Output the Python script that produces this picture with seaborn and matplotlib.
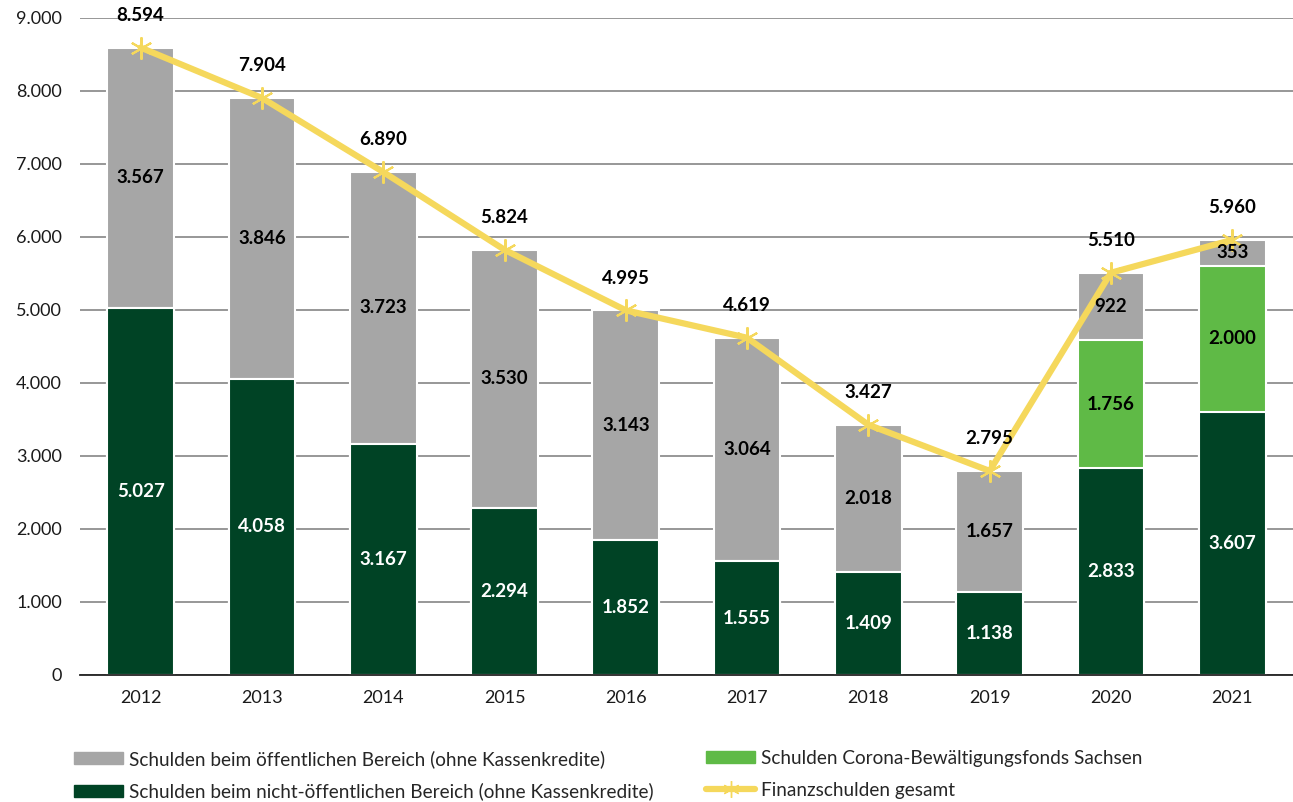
import numpy as np
import pandas as pd
import matplotlib
matplotlib.use("Agg")
import matplotlib.pyplot as plt
from matplotlib.patches import Patch
from matplotlib.lines import Line2D
import seaborn as sns

# Finanzschulden des Landes, Mio. EUR
years = ["2012", "2013", "2014", "2015", "2016", "2017", "2018", "2019", "2020", "2021"]
nicht_oeffentlich = [5027, 4058, 3167, 2294, 1852, 1555, 1409, 1138, 2833, 3607]
oeffentlich = [3567, 3846, 3723, 3530, 3143, 3064, 2018, 1657, 922, 353]
corona_fonds = [0, 0, 0, 0, 0, 0, 0, 0, 1756, 2000]
gesamt = [8594, 7904, 6890, 5824, 4995, 4619, 3427, 2795, 5510, 5960]

C_GRAY = "#a6a6a6"
C_DARK = "#004325"
C_LIGHT = "#5fba46"
C_LINE = "#f5d85c"

sns.set_theme(style="white")
plt.rcParams["font.family"] = ["Lato", "DejaVu Sans"]

df = pd.DataFrame({
    "Jahr": years,
    "dunkel": nicht_oeffentlich,
    "hell": corona_fonds,
    "grau": oeffentlich,
    "gesamt": gesamt,
})
df["stack_hell"] = df["dunkel"] + df["hell"]
df["stack_grau"] = df["stack_hell"] + df["grau"]

fig = plt.figure(figsize=(12.93, 8.02), dpi=100)
ax = fig.add_axes([0.0619, 0.1584, 0.938, 0.8192])

bar_kw = dict(width=0.55, edgecolor="white", linewidth=1.5, zorder=2, saturation=1)
sns.barplot(data=df, x="Jahr", y="stack_grau", color=C_GRAY, ax=ax, **bar_kw)
sns.barplot(data=df, x="Jahr", y="stack_hell", color=C_LIGHT, ax=ax, **bar_kw)
sns.barplot(data=df, x="Jahr", y="dunkel", color=C_DARK, ax=ax, **bar_kw)

pos = np.arange(len(years))
sns.lineplot(x=pos, y=df["gesamt"], ax=ax, color=C_LINE, linewidth=4.5,
             marker=(6, 2, 0), markersize=16, markeredgecolor=C_LINE,
             markeredgewidth=1.5, zorder=4)

def fmt(v):
    return f"{v:,}".replace(",", ".")

# segment labels
lab_kw = dict(ha="center", va="center", fontsize=13.5, fontweight="bold", zorder=5)
for i in range(len(years)):
    d, h, g = nicht_oeffentlich[i], corona_fonds[i], oeffentlich[i]
    ax.text(i, d / 2, fmt(d), color="white", **lab_kw)
    if h > 0:
        ax.text(i, d + h / 2, fmt(h), color="black", **lab_kw)
    ax.text(i, d + h + g / 2, fmt(g), color="black", **lab_kw)
    ax.annotate(fmt(gesamt[i]), (i, gesamt[i]),
                xytext=(0, 32), textcoords="offset pixels",
                color="black", **lab_kw)

ax.set_xlim(-0.5, len(years) - 0.5)
ax.set_ylim(0, 9000)
ax.set_yticks(np.arange(0, 9001, 1000))
ax.set_yticklabels([fmt(v) for v in range(0, 9001, 1000)])
ax.set_xlabel("")
ax.set_ylabel("")
ax.tick_params(axis="both", labelsize=13, length=0, colors="#1a1a1a")
ax.tick_params(axis="x", pad=11)
ax.tick_params(axis="y", pad=13)
ax.yaxis.grid(True, color="#8f8f8f", linewidth=1.3, zorder=0)
ax.set_axisbelow(True)
for s in ["left", "right", "top"]:
    ax.spines[s].set_visible(False)
ax.spines["bottom"].set_color("#222222")
ax.spines["bottom"].set_linewidth(1.3)

leg_kw = dict(frameon=False, fontsize=13.7, handlelength=2.6, handleheight=0.6,
              handletextpad=0.3, labelspacing=0.78, loc="upper left",
              borderaxespad=0, borderpad=0)
h1 = [Patch(color=C_GRAY), Patch(color=C_DARK)]
l1 = ["Schulden beim öffentlichen Bereich (ohne Kassenkredite)",
      "Schulden beim nicht-öffentlichen Bereich (ohne Kassenkredite)"]
h2 = [Patch(color=C_LIGHT),
      Line2D([], [], color=C_LINE, linewidth=4.5, marker=(6, 2, 0),
             markersize=12, markeredgecolor=C_LINE)]
l2 = ["Schulden Corona-Bewältigungsfonds Sachsen", "Finanzschulden gesamt"]
fig.legend(h1, l1, bbox_to_anchor=(0.057, 0.065), **leg_kw)
fig.legend(h2, l2, bbox_to_anchor=(0.546, 0.065), **leg_kw)

fig.savefig("out.png", dpi=100)
